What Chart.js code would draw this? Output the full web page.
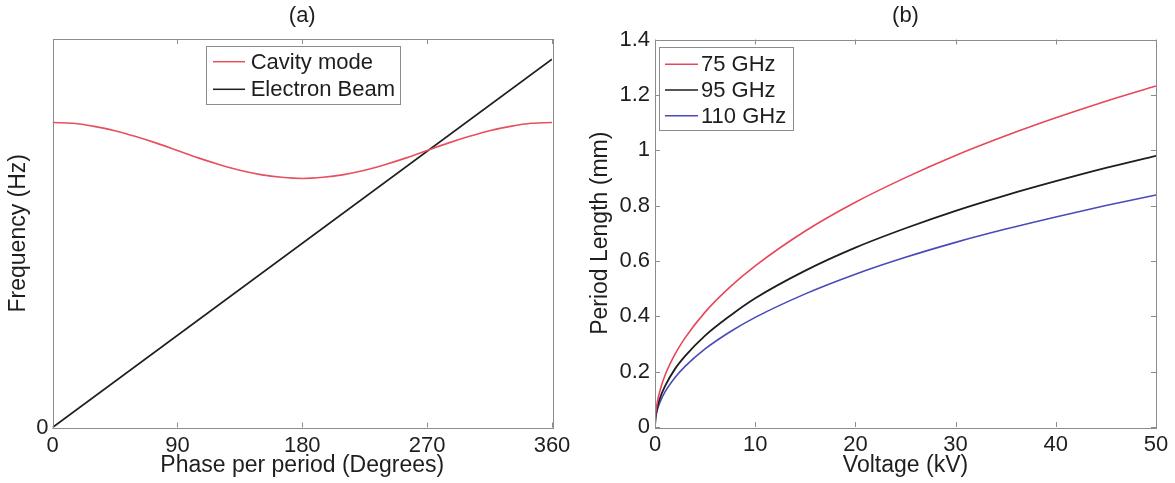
<!DOCTYPE html>
<html><head><meta charset="utf-8">
<script src="https://cdn.jsdelivr.net/npm/chart.js@4.4.1/dist/chart.umd.min.js"></script>
<style>
html,body{margin:0;padding:0;background:#fff;}
#wrap{position:relative;width:1175px;height:483px;overflow:hidden;background:#fff;}
#cA{position:absolute;left:0;top:0;}
#cB{position:absolute;left:580px;top:0;}
</style></head><body>
<div id="wrap"><canvas id="cA" width="580" height="483"></canvas><canvas id="cB" width="595" height="483"></canvas></div>
<script>
// ---------- Panel (a) data ----------
const phaseDeg   = [0,15,30,45,60,75,90,105,120,135,150,165,180,195,210,225,240,255,270,285,300,315,330,345,360];
const cavityMode = [0.785,0.783,0.775,0.764,0.749,0.732,0.713,0.694,0.677,0.662,0.651,0.644,0.641,0.644,0.651,0.662,0.677,0.694,0.713,0.732,0.749,0.764,0.775,0.783,0.785];
const beamPhase  = [0,360];
const beamFreq   = [0,0.948];
const phaseTicks = [0,90,180,270,360];
const freqTicks  = [0];

// ---------- Panel (b) data ----------
const voltageKV = [0,0.05,0.1,0.25,0.5,1,2,3,5,7.5,10,15,20,25,30,35,40,45,50];
const len75  = [0,0.042,0.059,0.093,0.132,0.187,0.263,0.322,0.415,0.506,0.582,0.708,0.812,0.901,0.981,1.052,1.117,1.177,1.232];
const len95  = [0,0.033,0.047,0.074,0.105,0.148,0.210,0.256,0.330,0.402,0.465,0.565,0.648,0.718,0.781,0.837,0.888,0.936,0.980];
const len110 = [0,0.028,0.040,0.064,0.090,0.127,0.179,0.219,0.282,0.344,0.396,0.481,0.552,0.613,0.667,0.715,0.759,0.800,0.838];
const voltTicks = [0,10,20,30,40,50];
const lenTicks  = [0,0.2,0.4,0.6,0.8,1,1.2,1.4];

const FONT = '"Liberation Sans", Arial, Helvetica, sans-serif';
Chart.defaults.font.family = FONT;
Chart.defaults.color = '#1e1e1e';

const toXY = (xs, ys) => xs.map((v,i)=>({x:v, y:ys[i]}));

const boxTicks = {
  id:'boxTicks',
  afterDatasetsDraw(chart, args, o){
    const {ctx, chartArea:{left,right,top,bottom}, scales:{x,y}} = chart;
    ctx.save();
    ctx.strokeStyle = o.color; ctx.lineWidth = 1;
    ctx.beginPath();
    x.ticks.forEach(t=>{
      const px = Math.round(x.getPixelForValue(t.value))+0.5;
      ctx.moveTo(px,bottom); ctx.lineTo(px,bottom-o.len);
      ctx.moveTo(px,top); ctx.lineTo(px,top+o.len);
    });
    y.ticks.forEach(t=>{
      const py = Math.round(y.getPixelForValue(t.value))+0.5;
      ctx.moveTo(left,py); ctx.lineTo(left+o.len,py);
      ctx.moveTo(right,py); ctx.lineTo(right-o.len,py);
    });
    ctx.stroke();
    ctx.strokeRect(Math.round(left)+0.5, Math.round(top)+0.5, Math.round(right-left), Math.round(bottom-top));
    ctx.restore();
  }
};

const insetLegend = {
  id:'insetLegend',
  afterDraw(chart, args, o){
    const ctx = chart.ctx; ctx.save();
    ctx.font = o.fontSize + 'px ' + FONT;
    const items = chart.data.datasets;
    const maxW = Math.max(...items.map(d=>ctx.measureText(d.label).width));
    const w = o.padL + o.lineLen + o.gap + maxW + o.padR;
    const h = o.padT + (items.length-1)*o.row + o.padB;
    ctx.fillStyle = '#fff'; ctx.fillRect(o.x, o.y, w, h);
    ctx.strokeStyle = o.border; ctx.lineWidth = 1;
    ctx.strokeRect(Math.round(o.x)+0.5, Math.round(o.y)+0.5, Math.round(w), Math.round(h));
    items.forEach((d,i)=>{
      const cy = o.y + o.padT + i*o.row;
      ctx.strokeStyle = d.borderColor; ctx.lineWidth = 1.5;
      ctx.beginPath(); ctx.moveTo(o.x+o.padL, cy); ctx.lineTo(o.x+o.padL+o.lineLen, cy); ctx.stroke();
      ctx.fillStyle = '#1e1e1e'; ctx.textBaseline = 'middle'; ctx.textAlign = 'left';
      ctx.fillText(d.label, o.x+o.padL+o.lineLen+o.gap, cy+1);
    });
    ctx.restore();
  }
};

const panelTitle = {
  id:'panelTitle',
  afterDraw(chart, args, o){
    const {ctx, chartArea:{left,right}} = chart;
    ctx.save();
    ctx.font = o.fontSize + 'px ' + FONT;
    ctx.fillStyle = '#1e1e1e'; ctx.textAlign = 'center'; ctx.textBaseline = 'middle';
    ctx.fillText(o.text, (left+right)/2, o.y);
    ctx.restore();
  }
};

function axisX(min, max, ticksArr, title, h){
  return {
    type:'linear', min, max,
    afterBuildTicks: s => { s.ticks = ticksArr.map(v=>({value:v})); },
    afterFit: s => { s.height = h; },
    ticks:{ font:{size:22}, padding:5, maxRotation:0, autoSkip:false, callback: v => String(v) },
    grid:{ display:false, drawTicks:false },
    border:{ display:false },
    title:{ display:true, text:title, font:{size:23}, padding:{top:0,bottom:4} }
  };
}
function axisY(min, max, ticksArr, title, w, labPad, titlePad){
  return {
    type:'linear', min, max,
    afterBuildTicks: s => { s.ticks = ticksArr.map(v=>({value:v})); },
    afterFit: s => { s.width = w; },
    ticks:{ font:{size:22}, padding:labPad, autoSkip:false, callback: v => String(v) },
    grid:{ display:false, drawTicks:false },
    border:{ display:false },
    title:{ display:true, text:title, font:{size:23}, padding:{top:titlePad,bottom:0} }
  };
}

const common = {
  responsive:false, animation:false, devicePixelRatio:1,
  parsing:true,
  elements:{ point:{ radius:0 }, line:{ tension:0 } },
};

new Chart(document.getElementById('cA'), {
  type:'line',
  data:{ datasets:[
    { label:'Cavity mode', data: toXY(phaseDeg, cavityMode), borderColor:'#e6505f', borderWidth:1.6, cubicInterpolationMode:'monotone', fill:false },
    { label:'Electron Beam', data: toXY(beamPhase, beamFreq), borderColor:'#1e1e1e', borderWidth:1.7, fill:false }
  ]},
  plugins:[boxTicks, insetLegend, panelTitle],
  options:{ ...common,
    layout:{ padding:{ left:0, top:39, right:28, bottom:0 } },
    scales:{
      x: axisX(0, 360, phaseTicks, 'Phase per period (Degrees)', 55.5),
      y: axisY(0, 1, freqTicks, 'Frequency (Hz)', 52.5, 4, 5)
    },
    plugins:{
      legend:{display:false}, tooltip:{enabled:false},
      boxTicks:{ color:'#8c8c8c', len:5 },
      insetLegend:{ x:205.5, y:45.7, fontSize:22, padL:7.5, lineLen:32, gap:5.7, padT:16, row:27.6, padB:14, padR:5, border:'#8c8c8c' },
      panelTitle:{ text:'(a)', fontSize:22, y:15.5 }
    }
  }
});

new Chart(document.getElementById('cB'), {
  type:'line',
  data:{ datasets:[
    { label:'75 GHz', data: toXY(voltageKV, len75), borderColor:'#e6485a', borderWidth:1.6, cubicInterpolationMode:'monotone', fill:false },
    { label:'95 GHz', data: toXY(voltageKV, len95), borderColor:'#1e1e1e', borderWidth:1.8, cubicInterpolationMode:'monotone', fill:false },
    { label:'110 GHz', data: toXY(voltageKV, len110), borderColor:'#4a4ab8', borderWidth:1.6, cubicInterpolationMode:'monotone', fill:false }
  ]},
  plugins:[boxTicks, insetLegend, panelTitle],
  options:{ ...common,
    layout:{ padding:{ left:0, top:39.5, right:19, bottom:0 } },
    scales:{
      x: axisX(0, 50, voltTicks, 'Voltage (kV)', 56),
      y: axisY(0, 1.4, lenTicks, 'Period Length (mm)', 75, 5, 6.5)
    },
    plugins:{
      legend:{display:false}, tooltip:{enabled:false},
      boxTicks:{ color:'#8c8c8c', len:5 },
      insetLegend:{ x:79, y:46.7, fontSize:22, padL:6, lineLen:33, gap:3, padT:17.6, row:25.7, padB:14.3, padR:7, border:'#8c8c8c' },
      panelTitle:{ text:'(b)', fontSize:22, y:15.5 }
    }
  }
});
</script>
</body></html>
